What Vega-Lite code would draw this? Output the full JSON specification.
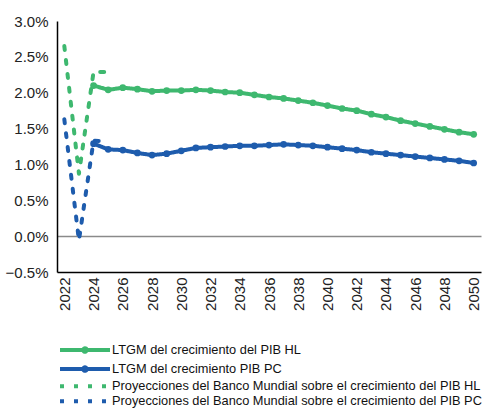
{
  "$schema": "https://vega.github.io/schema/vega-lite/v6.json",
  "autosize": {"type": "none"},
  "padding": {"left": 57, "top": 21, "right": 4, "bottom": 138},
  "width": 424,
  "height": 251,
  "config": {
    "view": {"stroke": null},
    "font": "Liberation Sans",
    "axis": {
      "domainColor": "#000000",
      "domainWidth": 1.5,
      "ticks": false,
      "grid": false,
      "labelFont": "Liberation Sans",
      "labelFontSize": 15,
      "labelColor": "#222222",
      "title": null
    }
  },
  "data": {
    "values": [
      {"year": 2022, "value": 2.65, "series": "Proyecciones del Banco Mundial sobre el crecimiento del PIB HL"},
      {"year": 2023, "value": 0.87, "series": "Proyecciones del Banco Mundial sobre el crecimiento del PIB HL"},
      {"year": 2024, "value": 2.29, "series": "Proyecciones del Banco Mundial sobre el crecimiento del PIB HL"},
      {"year": 2025, "value": 2.29, "series": "Proyecciones del Banco Mundial sobre el crecimiento del PIB HL"},
      {"year": 2022, "value": 1.63, "series": "Proyecciones del Banco Mundial sobre el crecimiento del PIB PC"},
      {"year": 2023, "value": -0.06, "series": "Proyecciones del Banco Mundial sobre el crecimiento del PIB PC"},
      {"year": 2024, "value": 1.33, "series": "Proyecciones del Banco Mundial sobre el crecimiento del PIB PC"},
      {"year": 2025, "value": 1.32, "series": "Proyecciones del Banco Mundial sobre el crecimiento del PIB PC"},
      {"year": 2024, "value": 2.10, "series": "LTGM del crecimiento del PIB HL"},
      {"year": 2025, "value": 2.04, "series": "LTGM del crecimiento del PIB HL"},
      {"year": 2026, "value": 2.07, "series": "LTGM del crecimiento del PIB HL"},
      {"year": 2027, "value": 2.05, "series": "LTGM del crecimiento del PIB HL"},
      {"year": 2028, "value": 2.02, "series": "LTGM del crecimiento del PIB HL"},
      {"year": 2029, "value": 2.03, "series": "LTGM del crecimiento del PIB HL"},
      {"year": 2030, "value": 2.03, "series": "LTGM del crecimiento del PIB HL"},
      {"year": 2031, "value": 2.04, "series": "LTGM del crecimiento del PIB HL"},
      {"year": 2032, "value": 2.03, "series": "LTGM del crecimiento del PIB HL"},
      {"year": 2033, "value": 2.01, "series": "LTGM del crecimiento del PIB HL"},
      {"year": 2034, "value": 2.00, "series": "LTGM del crecimiento del PIB HL"},
      {"year": 2035, "value": 1.97, "series": "LTGM del crecimiento del PIB HL"},
      {"year": 2036, "value": 1.94, "series": "LTGM del crecimiento del PIB HL"},
      {"year": 2037, "value": 1.92, "series": "LTGM del crecimiento del PIB HL"},
      {"year": 2038, "value": 1.89, "series": "LTGM del crecimiento del PIB HL"},
      {"year": 2039, "value": 1.86, "series": "LTGM del crecimiento del PIB HL"},
      {"year": 2040, "value": 1.82, "series": "LTGM del crecimiento del PIB HL"},
      {"year": 2041, "value": 1.78, "series": "LTGM del crecimiento del PIB HL"},
      {"year": 2042, "value": 1.75, "series": "LTGM del crecimiento del PIB HL"},
      {"year": 2043, "value": 1.70, "series": "LTGM del crecimiento del PIB HL"},
      {"year": 2044, "value": 1.66, "series": "LTGM del crecimiento del PIB HL"},
      {"year": 2045, "value": 1.61, "series": "LTGM del crecimiento del PIB HL"},
      {"year": 2046, "value": 1.57, "series": "LTGM del crecimiento del PIB HL"},
      {"year": 2047, "value": 1.53, "series": "LTGM del crecimiento del PIB HL"},
      {"year": 2048, "value": 1.49, "series": "LTGM del crecimiento del PIB HL"},
      {"year": 2049, "value": 1.45, "series": "LTGM del crecimiento del PIB HL"},
      {"year": 2050, "value": 1.42, "series": "LTGM del crecimiento del PIB HL"},
      {"year": 2024, "value": 1.29, "series": "LTGM del crecimiento PIB PC"},
      {"year": 2025, "value": 1.21, "series": "LTGM del crecimiento PIB PC"},
      {"year": 2026, "value": 1.20, "series": "LTGM del crecimiento PIB PC"},
      {"year": 2027, "value": 1.16, "series": "LTGM del crecimiento PIB PC"},
      {"year": 2028, "value": 1.13, "series": "LTGM del crecimiento PIB PC"},
      {"year": 2029, "value": 1.15, "series": "LTGM del crecimiento PIB PC"},
      {"year": 2030, "value": 1.19, "series": "LTGM del crecimiento PIB PC"},
      {"year": 2031, "value": 1.23, "series": "LTGM del crecimiento PIB PC"},
      {"year": 2032, "value": 1.24, "series": "LTGM del crecimiento PIB PC"},
      {"year": 2033, "value": 1.25, "series": "LTGM del crecimiento PIB PC"},
      {"year": 2034, "value": 1.26, "series": "LTGM del crecimiento PIB PC"},
      {"year": 2035, "value": 1.26, "series": "LTGM del crecimiento PIB PC"},
      {"year": 2036, "value": 1.27, "series": "LTGM del crecimiento PIB PC"},
      {"year": 2037, "value": 1.28, "series": "LTGM del crecimiento PIB PC"},
      {"year": 2038, "value": 1.27, "series": "LTGM del crecimiento PIB PC"},
      {"year": 2039, "value": 1.26, "series": "LTGM del crecimiento PIB PC"},
      {"year": 2040, "value": 1.24, "series": "LTGM del crecimiento PIB PC"},
      {"year": 2041, "value": 1.22, "series": "LTGM del crecimiento PIB PC"},
      {"year": 2042, "value": 1.20, "series": "LTGM del crecimiento PIB PC"},
      {"year": 2043, "value": 1.17, "series": "LTGM del crecimiento PIB PC"},
      {"year": 2044, "value": 1.15, "series": "LTGM del crecimiento PIB PC"},
      {"year": 2045, "value": 1.13, "series": "LTGM del crecimiento PIB PC"},
      {"year": 2046, "value": 1.11, "series": "LTGM del crecimiento PIB PC"},
      {"year": 2047, "value": 1.09, "series": "LTGM del crecimiento PIB PC"},
      {"year": 2048, "value": 1.07, "series": "LTGM del crecimiento PIB PC"},
      {"year": 2049, "value": 1.05, "series": "LTGM del crecimiento PIB PC"},
      {"year": 2050, "value": 1.02, "series": "LTGM del crecimiento PIB PC"}
    ]
  },
  "encoding": {
    "x": {
      "field": "year",
      "type": "quantitative",
      "scale": {"domain": [2021.5, 2050.5], "nice": false, "zero": false},
      "axis": {
        "values": [2022, 2024, 2026, 2028, 2030, 2032, 2034, 2036, 2038, 2040, 2042, 2044, 2046, 2048, 2050],
        "format": "d",
        "labelAngle": -90,
        "labelPadding": 5,
        "labelOverlap": false
      }
    },
    "y": {
      "field": "value",
      "type": "quantitative",
      "scale": {"domain": [-0.5, 3.0], "nice": false, "zero": false},
      "axis": {
        "values": [-0.5, 0, 0.5, 1, 1.5, 2, 2.5, 3],
        "labelExpr": "format(datum.value, '.1f') + '%'",
        "labelPadding": 9,
        "labelOverlap": false,
        "grid": true,
        "gridColor": {"condition": {"test": "datum.value === 0", "value": "#8a8a8a"}, "value": "rgba(0,0,0,0)"},
        "gridWidth": 1.5
      }
    }
  },
  "layer": [
    {
      "mark": {"type": "line", "strokeWidth": 4, "strokeCap": "round", "strokeJoin": "round"},
      "encoding": {
        "color": {
          "field": "series",
          "type": "nominal",
          "sort": null,
          "scale": {
            "domain": [
              "LTGM del crecimiento del PIB HL",
              "LTGM del crecimiento PIB PC",
              "Proyecciones del Banco Mundial sobre el crecimiento del PIB HL",
              "Proyecciones del Banco Mundial sobre el crecimiento del PIB PC"
            ],
            "range": ["#3EB86F", "#1E5CAD", "#3EB86F", "#1E5CAD"]
          },
          "legend": {
            "title": null,
            "orient": "none",
            "legendX": 1,
            "legendY": 322,
            "direction": "vertical",
            "columns": 1,
            "padding": 0,
            "symbolSize": 100,
            "symbolStrokeWidth": 4,
            "labelFont": "Liberation Sans",
            "labelFontSize": 12.8,
            "labelColor": "#111111",
            "labelOffset": 40,
            "labelLimit": 0,
            "rowPadding": -0.9,
            "encode": {
              "symbols": {
                "update": {
                  "shape": {"signal": "indexof(datum.value, 'LTGM') == 0 ? 'M-1,0L9,0M4.35,0A0.35,0.35,0,1,1,3.65,0A0.35,0.35,0,1,1,4.35,0' : 'M-1,0L9,0'"},
                  "fill": {"signal": "indexof(datum.value, 'LTGM') == 0 ? (indexof(datum.value, 'HL') > 0 ? '#3EB86F' : '#1E5CAD') : 'transparent'"},
                  "strokeDash": {"signal": "indexof(datum.value, 'LTGM') == 0 ? [1, 0] : [5, 9]"}
                }
              }
            }
          }
        },
        "strokeDash": {
          "field": "series",
          "type": "nominal",
          "sort": null,
          "scale": {
            "domain": [
              "LTGM del crecimiento del PIB HL",
              "LTGM del crecimiento PIB PC",
              "Proyecciones del Banco Mundial sobre el crecimiento del PIB HL",
              "Proyecciones del Banco Mundial sobre el crecimiento del PIB PC"
            ],
            "range": [[1, 0], [1, 0], [4, 10], [4, 10]]
          }
        }
      }
    },
    {
      "transform": [{"filter": "indexof(datum.series, 'LTGM') == 0"}],
      "mark": {"type": "point", "filled": true, "opacity": 1, "size": 45},
      "encoding": {
        "color": {"field": "series", "type": "nominal", "legend": null}
      }
    }
  ]
}
